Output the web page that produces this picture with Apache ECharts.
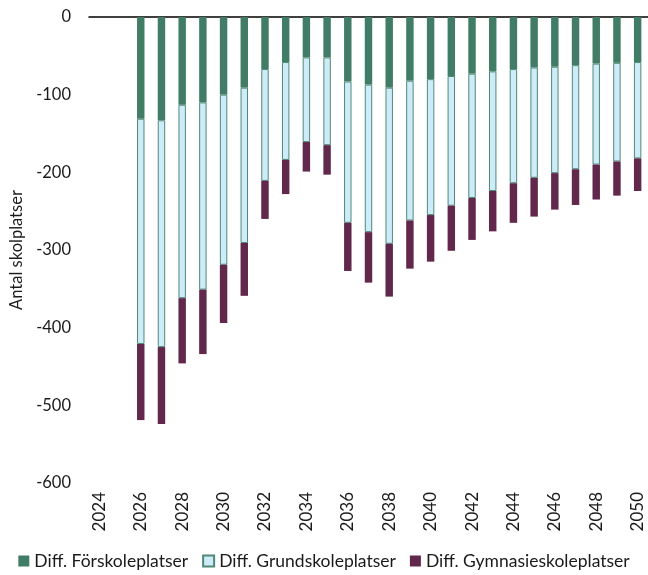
<!DOCTYPE html>
<html>
<head>
<meta charset="utf-8">
<script src="https://cdn.jsdelivr.net/npm/echarts@6/dist/echarts.min.js"></script>
<style>
  html, body { margin: 0; padding: 0; background: #fff; }
  #chart { width: 648px; height: 575px; }
</style>
</head>
<body>
<div id="chart"></div>
<script>
// år 2024-2050, staplar först från 2026
const years = ['2024', '2025', '2026', '2027', '2028', '2029', '2030', '2031', '2032', '2033', '2034',
  '2035', '2036', '2037', '2038', '2039', '2040', '2041', '2042', '2043', '2044', '2045', '2046',
  '2047', '2048', '2049', '2050']

const forskola = [null, null, -131, -133, -113, -110, -100, -91, -67, -58, -52, -52, -83, -87, -91,
  -82, -80, -76, -73, -70, -67, -65, -64, -62, -60, -59, -58]
const grundskola = [null, null, -290, -292, -249, -241, -219, -200, -144, -126, -109, -113, -182, -190, -201,
  -180, -175, -167, -160, -154, -147, -142, -137, -134, -130, -127, -124]
const gymnasie = [null, null, -98, -99, -84, -83, -75, -68, -49, -44, -38, -38, -62, -65, -68,
  -62, -60, -58, -54, -52, -51, -50, -47, -46, -45, -44, -42]

const yTicks = { min: -600, max: 0, interval: 100 }

const font = 'Lato, "Open Sans", sans-serif'

const chart = echarts.init(document.getElementById('chart'))

const makeSeries = (name, data, color, border) => ({
  name: name,
  type: 'bar',
  stack: 'total',
  barWidth: '36%',
  itemStyle: {
    color: color,
    borderColor: border || color,
    borderWidth: border ? 1 : 0
  },
  data: data
})

chart.setOption({
  animation: false,
  textStyle: { fontFamily: font },
  grid: { left: 88, right: 0, top: 17, bottom: 92 },
  legend: {
    bottom: 0,
    left: 'center',
    icon: 'rect',
    itemWidth: 11,
    itemHeight: 11,
    itemGap: 14,
    textStyle: { fontSize: 17.5, color: '#1a1a1a', fontFamily: font },
    data: ['Diff. Förskoleplatser', 'Diff. Grundskoleplatser', 'Diff. Gymnasieskoleplatser']
  },
  xAxis: [
    {
      type: 'category',
      position: 'bottom',
      data: years,
      axisLine: { show: false },
      axisTick: { show: false },
      axisLabel: {
        rotate: 90,
        interval: 1,
        margin: 9,
        fontSize: 17,
        color: '#1a1a1a'
      }
    },
    {
      // nolllinjen överst
      type: 'category',
      position: 'top',
      data: years,
      axisLine: { show: true, lineStyle: { color: '#000', width: 1.5 } },
      axisTick: { show: false },
      axisLabel: { show: false }
    }
  ],
  yAxis: {
    type: 'value',
    min: yTicks.min,
    max: yTicks.max,
    interval: yTicks.interval,
    name: 'Antal skolplatser',
    nameLocation: 'middle',
    nameGap: 64,
    nameTextStyle: { fontSize: 16.5, color: '#1a1a1a' },
    axisLine: { show: false },
    axisTick: { show: false },
    splitLine: { show: false },
    axisLabel: { fontSize: 16.5, margin: 18, color: '#1a1a1a' }
  },
  series: [
    makeSeries('Diff. Förskoleplatser', forskola, '#417c66'),
    makeSeries('Diff. Grundskoleplatser', grundskola, '#cdebf9', '#4f8a76'),
    makeSeries('Diff. Gymnasieskoleplatser', gymnasie, '#62284b')
  ]
})
</script>
</body>
</html>
